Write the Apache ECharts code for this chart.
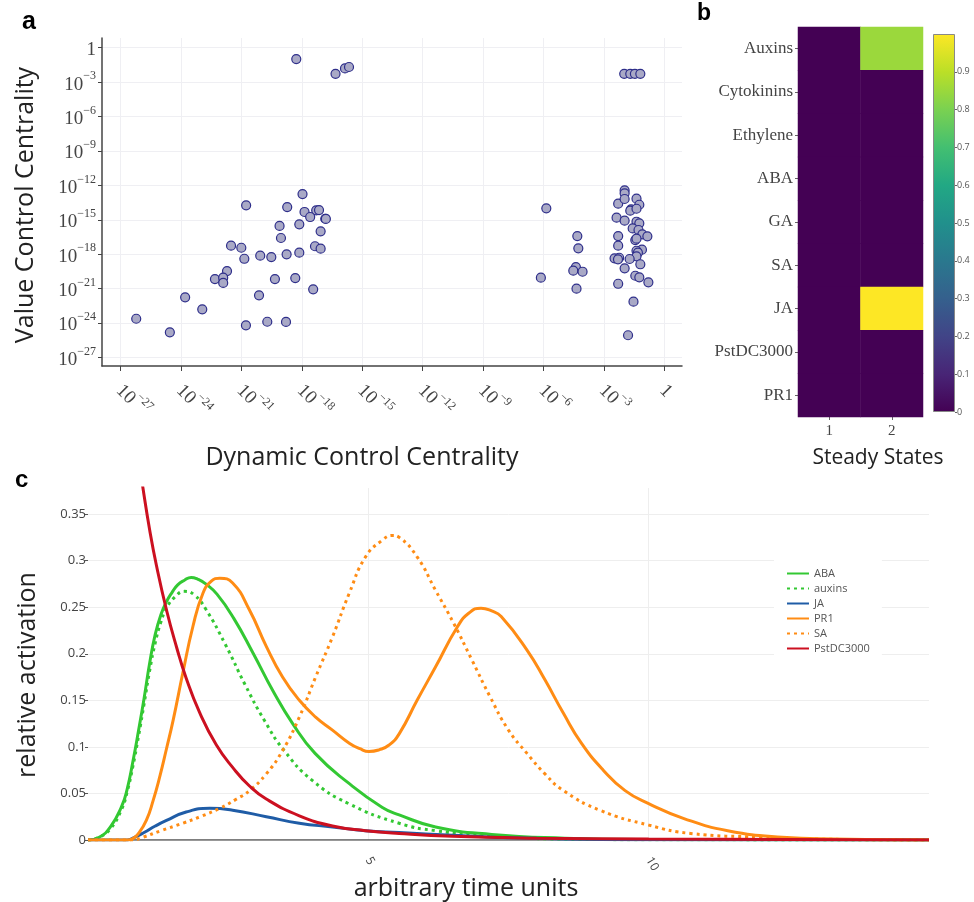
<!DOCTYPE html>
<html><head><meta charset="utf-8">
<script src="https://cdn.jsdelivr.net/npm/echarts@6/dist/echarts.min.js"></script>
<style>html,body{margin:0;padding:0;background:#fff}#c{width:974px;height:902px}</style>
</head><body><div id="c"></div>
<script>
// ---------- Panel a: control centralities (log10 exponents) ----------
const dccExp = [
-18.28,-16.33,-15.86,-15.66,-17.97,-20.77,-18.73,-17.87,-17.29,-17.15,-17.59,-16.84,-16.81,-19.11,-18.13,-17.07,-19.04,-21.52,-21.01,-17.35,-17.07,-20.86,-20.07,-19.52,-18.76,-18.13,-21.72,-22.32,-21.91,-21.91,-19.34,-18.33,-17.44,-20.13,-23.80,-22.95,-26.23,-24.56,-20.78,-19.72,-18.79,
-1.99,-1.69,-1.46,-1.19,
-5.86,-1.97,-1.97,-1.38,-2.29,-1.97,-1.24,-1.65,-1.69,-1.38,-2.37,-1.97,-1.38,-1.24,-1.57,-1.28,-1.09,-0.84,-4.32,-2.29,-1.44,-1.38,-4.27,-2.29,-1.11,-1.38,-1.31,-1.38,-2.47,-2.24,-2.30,-1.72,-1.19,-1.97,-4.39,-4.52,-4.06,-6.13,-1.44,-1.24,-2.29,-0.79,-4.36,-1.53,-1.80];
const vccExp = [
-0.99,-2.27,-1.80,-1.68,-12.76,-13.74,-13.89,-14.32,-14.18,-14.15,-14.76,-14.91,-14.93,-15.54,-15.40,-16.01,-16.59,-17.26,-17.44,-17.31,-17.52,-18.40,-18.13,-18.25,-18.01,-17.87,-19.47,-20.17,-20.05,-20.51,-20.17,-20.08,-21.06,-21.59,-21.76,-22.81,-23.63,-24.81,-24.20,-23.89,-23.91,
-2.27,-2.27,-2.27,-2.27,
-14.00,-12.43,-12.69,-13.16,-13.60,-13.19,-13.69,-14.09,-14.21,-14.04,-14.82,-15.08,-15.17,-15.31,-15.75,-15.89,-16.27,-16.44,-16.42,-16.42,-16.77,-16.65,-17.49,-17.26,-17.61,-17.70,-17.87,-18.19,-18.36,-18.31,-18.45,-18.42,-18.88,-19.23,-19.12,-19.44,-19.53,-20.05,-19.88,-20.02,-20.58,-20.45,-21.01,-22.14,-25.07];
const xTickExps = [-27,-24,-21,-18,-15,-12,-9,-6,-3,0];
const yTickExps = [-27,-24,-21,-18,-15,-12,-9,-6,-3,0];

// ---------- Panel b: steady states ----------
const hormones = ['Auxins','Cytokinins','Ethylene','ABA','GA','SA','JA','PstDC3000','PR1'];
const states = ['1','2'];
const state1 = [0,0,0,0,0,0,0,0,0];
const state2 = [0.85,0,0,0,0,0,1,0,0];
const colorbarTicks = [0,0.1,0.2,0.3,0.4,0.5,0.6,0.7,0.8,0.9];
const viridis = ['#440154','#482576','#414487','#35608D','#2A788E','#21908C','#22A884','#43BF71','#7AD151','#BBDF27','#FDE725'];

// ---------- Panel c: time courses ----------
const abaT = [0,0.2,0.4,0.6,0.7,0.8,0.9,1.0,1.1,1.2,1.3,1.4,1.5,1.6,1.72,1.84,1.96,2.1,2.3,2.6,2.95,3.3,3.65,4.05,4.65,5.25,5.55,6.2,7.2,8.5,10,15];
const abaV = [0,0.003,0.014,0.036,0.055,0.084,0.117,0.152,0.19,0.221,0.242,0.256,0.266,0.274,0.279,0.282,0.28,0.275,0.264,0.238,0.2,0.16,0.125,0.093,0.061,0.035,0.027,0.014,0.006,0.002,0.0005,0];
const auxT = [0,0.2,0.4,0.6,0.7,0.8,0.9,1.0,1.1,1.2,1.3,1.4,1.55,1.72,1.9,2.1,2.45,2.8,3.15,3.5,4.0,4.65,5.55,6.2,7.2,8.5,10,15];
const auxV = [0,0.003,0.012,0.033,0.052,0.079,0.111,0.146,0.182,0.212,0.234,0.249,0.261,0.267,0.263,0.248,0.21,0.167,0.128,0.096,0.064,0.039,0.018,0.01,0.004,0.001,0.0003,0];
const jaT = [0,0.7,0.8,1.0,1.2,1.4,1.75,2.17,2.58,3.18,3.77,4.36,4.95,5.55,6.5,7.2,8.5,10,15];
const jaV = [0,0,0.002,0.008,0.015,0.021,0.03,0.034,0.032,0.025,0.018,0.014,0.010,0.008,0.005,0.003,0.001,0.0003,0];
const pr1T = [0,0.7,0.8,0.9,1.04,1.16,1.28,1.4,1.52,1.69,1.87,2.05,2.2,2.35,2.58,2.88,3.18,3.47,3.77,4.06,4.36,4.66,4.85,5.01,5.2,5.37,5.55,5.87,6.2,6.59,6.8,7.01,7.2,7.37,7.83,8.15,8.48,8.8,9.19,9.58,10,10.63,11.41,12.38,13.3,15];
const pr1V = [0,0,0.0015,0.007,0.021,0.042,0.068,0.098,0.129,0.179,0.229,0.265,0.278,0.281,0.276,0.247,0.208,0.175,0.15,0.132,0.118,0.104,0.098,0.095,0.097,0.102,0.114,0.15,0.186,0.229,0.244,0.249,0.246,0.24,0.204,0.172,0.136,0.104,0.075,0.053,0.039,0.023,0.010,0.003,0.001,0];
const saT = [0,0.8,0.98,1.3,1.69,2.0,2.35,2.65,2.88,3.18,3.47,3.77,4.06,4.36,4.66,4.95,5.25,5.43,5.55,5.87,6.2,6.52,6.85,7.17,7.5,7.83,8.15,8.48,9.13,10,10.75,12,13,15];
const saV = [0,0,0.003,0.01,0.018,0.025,0.034,0.044,0.053,0.071,0.096,0.132,0.175,0.218,0.265,0.304,0.322,0.327,0.325,0.304,0.268,0.233,0.193,0.154,0.118,0.093,0.071,0.053,0.032,0.016,0.007,0.003,0.001,0];
const pstT = [0,0.25,0.5,0.75,0.98,1.1,1.22,1.4,1.58,1.75,1.99,2.29,2.58,2.88,3.18,3.77,4.36,4.95,5.55,6.5,8,10,15];
const pstV = [1.0,0.78,0.61,0.47,0.378,0.333,0.295,0.247,0.207,0.174,0.137,0.102,0.078,0.058,0.044,0.026,0.015,0.010,0.007,0.004,0.002,0.001,0];
const timeTicks = [5,10];
const actTicks = [0,0.05,0.1,0.15,0.2,0.25,0.3,0.35];

const SANS = "'Open Sans','Noto Sans',sans-serif";
const SERIF = "'Liberation Serif','DejaVu Serif',serif";
const GREEN = '#33c833', BLUE = '#1f5ca6', ORANGE = '#ff8c14', RED = '#cc1020';

function expLabel(v) {
  if (Math.round(v) === 0) return '{b|1}';
  return '{b|10}{s|−' + Math.abs(Math.round(v)) + '}';
}
const expRich = {
  b: {fontFamily: SERIF, fontSize: 19, color: '#444', lineHeight: 24, verticalAlign: 'bottom'},
  s: {fontFamily: SERIF, fontSize: 12, color: '#444', lineHeight: 12, verticalAlign: 'top'}
};
const pair = (T, V) => T.map((t, i) => [t, V[i]]);

const heatData = [];
hormones.forEach((h, i) => { heatData.push([0, i, state1[i]]); heatData.push([1, i, state2[i]]); });

const SM = 0.5;
const chart = echarts.init(document.getElementById('c'), null, {renderer: 'canvas'});
chart.setOption({
  animation: false,
  backgroundColor: '#fff',
  grid: [
    {left: 102, top: 38, width: 580, height: 328},
    {left: 798, top: 27, width: 125, height: 390},
    {left: 933, top: 34, width: 22, height: 378},
    {left: 88, top: 488, width: 841, height: 352}
  ],
  xAxis: [
    {gridIndex: 0, type: 'value', min: -27.93, max: 0.88,
     axisLine: {show: true, onZero: false, lineStyle: {color: '#444', width: 1.5}},
     axisTick: {show: true, length: 5, customValues: xTickExps, lineStyle: {color: '#444'}},
     axisLabel: {customValues: xTickExps, rotate: -45, margin: 20, formatter: expLabel, rich: expRich},
     splitLine: {show: true, lineStyle: {color: '#efeff3', width: 1}}},
    {gridIndex: 1, type: 'category', data: states, position: 'bottom',
     axisLine: {show: false}, axisTick: {show: true, alignWithLabel: true, length: 3, lineStyle: {color: '#666'}},
     axisLabel: {fontFamily: SERIF, fontSize: 15, color: '#444', margin: 7}, splitLine: {show: false}},
    {gridIndex: 2, type: 'category', data: ['c'], show: false},
    {gridIndex: 3, type: 'value', min: 0, max: 15,
     axisLine: {show: false},
     axisTick: {show: false, customValues: timeTicks},
     axisLabel: {customValues: timeTicks, rotate: -60, fontFamily: SANS, fontSize: 12, color: '#444', margin: 18},
     splitLine: {show: true, lineStyle: {color: '#eeeeee'}}}
  ],
  yAxis: [
    {gridIndex: 0, type: 'value', min: -27.75, max: 0.85,
     axisLine: {show: true, onZero: false, lineStyle: {color: '#444', width: 1.5}},
     axisTick: {show: true, length: 4, customValues: yTickExps, lineStyle: {color: '#444'}},
     axisLabel: {customValues: yTickExps, margin: 6, formatter: expLabel, rich: expRich},
     splitLine: {show: true, lineStyle: {color: '#efeff3', width: 1}}},
    {gridIndex: 1, type: 'category', data: hormones, inverse: true,
     axisLine: {show: false}, axisTick: {show: true, alignWithLabel: true, length: 3, lineStyle: {color: '#666'}},
     axisLabel: {fontFamily: SERIF, fontSize: 17, color: '#444', margin: 5}, splitLine: {show: false}},
    {gridIndex: 2, type: 'value', min: 0, max: 1, interval: 0.1, position: 'right',
     axisLine: {show: false}, axisTick: {show: true, length: 2, customValues: colorbarTicks, lineStyle: {color: '#666'}},
     axisLabel: {customValues: colorbarTicks, fontFamily: SANS, fontSize: 9, color: '#555', margin: 2},
     splitLine: {show: false}},
    {gridIndex: 3, type: 'value', min: 0, max: 0.378,
     axisLine: {show: false},
     axisTick: {show: true, length: 3, customValues: actTicks, lineStyle: {color: '#555'}},
     axisLabel: {customValues: actTicks, fontFamily: SANS, fontSize: 13, color: '#444', margin: 2},
     splitLine: {show: true, lineStyle: {color: '#eeeeee'}}}
  ],
  visualMap: [{type: 'continuous', min: 0, max: 1, show: false, seriesIndex: 1, inRange: {color: viridis}}],
  legend: {
    orient: 'vertical', left: 774, top: 558, padding: [10, 12, 10, 12], backgroundColor: '#fff',
    itemWidth: 22, itemHeight: 12, itemGap: 4,
    itemStyle: {opacity: 0},
    textStyle: {fontFamily: SANS, fontSize: 11, color: '#555'},
    data: ['ABA','auxins','JA','PR1','SA','PstDC3000']
  },
  graphic: [
    {type: 'text', x: 22, y: 22, style: {text: 'a', font: "bold 25px 'Liberation Sans', Arial, sans-serif", fill: '#000', verticalAlign: 'middle'}},
    {type: 'text', x: 697, y: 14, style: {text: 'b', font: "bold 23px 'Liberation Sans', Arial, sans-serif", fill: '#000', verticalAlign: 'middle'}},
    {type: 'text', x: 15, y: 480, style: {text: 'c', font: "bold 24px 'Liberation Sans', Arial, sans-serif", fill: '#000', verticalAlign: 'middle'}},
    {type: 'text', x: 26, y: 205, rotation: Math.PI / 2, style: {text: 'Value Control Centrality', font: "25px 'Open Sans', sans-serif", fill: '#222', align: 'center', verticalAlign: 'middle'}},
    {type: 'text', x: 362, y: 458, style: {text: 'Dynamic Control Centrality', font: "25px 'Open Sans', sans-serif", fill: '#222', align: 'center', verticalAlign: 'middle'}},
    {type: 'text', x: 878, y: 458, style: {text: 'Steady States', font: "21px 'Open Sans', sans-serif", fill: '#222', align: 'center', verticalAlign: 'middle'}},
    {type: 'text', x: 28, y: 675, rotation: Math.PI / 2, style: {text: 'relative activation', font: "25px 'Open Sans', sans-serif", fill: '#222', align: 'center', verticalAlign: 'middle'}},
    {type: 'text', x: 466, y: 889, style: {text: 'arbitrary time units', font: "25px 'Open Sans', sans-serif", fill: '#222', align: 'center', verticalAlign: 'middle'}}
  ],
  series: [
    {type: 'scatter', xAxisIndex: 0, yAxisIndex: 0, symbolSize: 9,
     data: dccExp.map((x, i) => [x, vccExp[i]]),
     itemStyle: {color: '#a9a9c6', borderColor: '#2e2e8a', borderWidth: 1.2, opacity: 1}},
    {type: 'heatmap', xAxisIndex: 1, yAxisIndex: 1, data: heatData},
    {type: 'bar', xAxisIndex: 2, yAxisIndex: 2, data: [1], barWidth: '100%', silent: true,
     itemStyle: {borderColor: '#888', borderWidth: 1,
       color: {type: 'linear', x: 0, y: 1, x2: 0, y2: 0,
         colorStops: viridis.map((c, i) => ({offset: i / (viridis.length - 1), color: c}))}}},
    {type: 'line', xAxisIndex: 3, yAxisIndex: 3, data: [[0, 0], [15, 0]], symbol: 'none', silent: true, z: 1,
     lineStyle: {color: '#555', width: 1.5}},
    {type: 'line', name: 'ABA', xAxisIndex: 3, yAxisIndex: 3, data: pair(abaT, abaV), symbol: 'none', smooth: SM,
     lineStyle: {color: GREEN, width: 3}, itemStyle: {color: GREEN}},
    {type: 'line', name: 'auxins', xAxisIndex: 3, yAxisIndex: 3, data: pair(auxT, auxV), symbol: 'none', smooth: SM,
     lineStyle: {color: GREEN, width: 3, type: [3, 4]}, itemStyle: {color: GREEN}},
    {type: 'line', name: 'JA', xAxisIndex: 3, yAxisIndex: 3, data: pair(jaT, jaV), symbol: 'none', smooth: SM,
     lineStyle: {color: BLUE, width: 3}, itemStyle: {color: BLUE}},
    {type: 'line', name: 'PR1', xAxisIndex: 3, yAxisIndex: 3, data: pair(pr1T, pr1V), symbol: 'none', smooth: SM,
     lineStyle: {color: ORANGE, width: 3}, itemStyle: {color: ORANGE}},
    {type: 'line', name: 'SA', xAxisIndex: 3, yAxisIndex: 3, data: pair(saT, saV), symbol: 'none', smooth: SM,
     lineStyle: {color: ORANGE, width: 3, type: [3, 4]}, itemStyle: {color: ORANGE}},
    {type: 'line', name: 'PstDC3000', xAxisIndex: 3, yAxisIndex: 3, data: pair(pstT, pstV), symbol: 'none', smooth: SM,
     lineStyle: {color: RED, width: 3}, itemStyle: {color: RED}}
  ]
});
</script></body></html>
